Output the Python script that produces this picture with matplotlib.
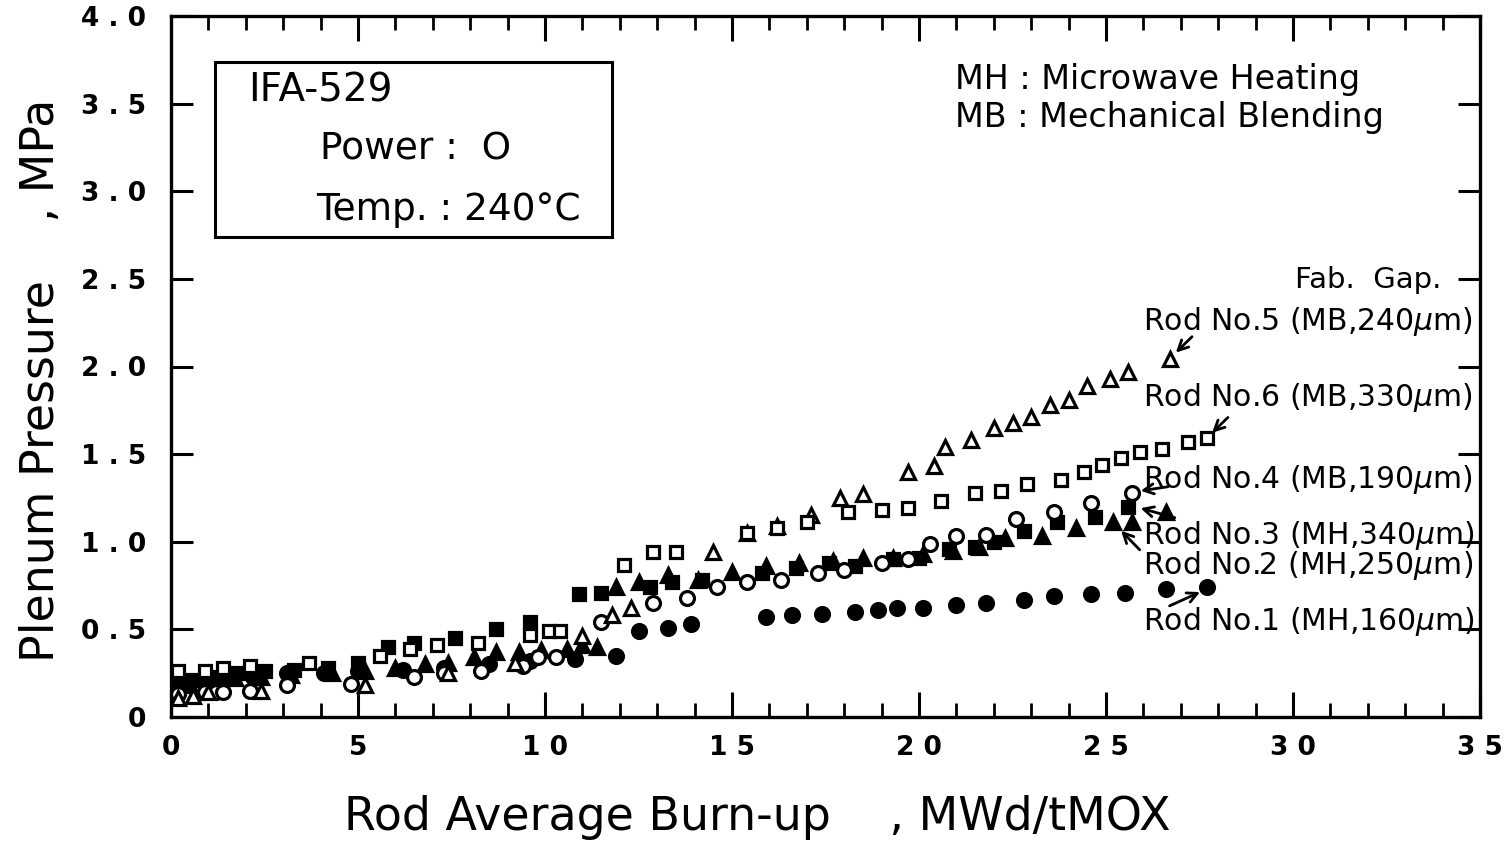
import matplotlib
matplotlib.use("Agg")
import matplotlib.pyplot as plt
from matplotlib.ticker import MultipleLocator

# ---- data (burn-up MWd/tMOX, plenum pressure MPa) ----
x1 = [0.1, 0.4, 0.9, 1.5, 2.2, 3.1, 4.1, 5.0, 6.2, 7.3, 8.5, 9.6, 10.8, 11.9, 12.5, 13.3, 13.9,
      15.9, 16.6, 17.4, 18.3, 18.9, 19.4, 20.1, 21.0, 21.8, 22.8, 23.6, 24.6, 25.5, 26.6, 27.7]
y1 = [0.17, 0.19, 0.21, 0.22, 0.23, 0.25, 0.25, 0.26, 0.27, 0.28, 0.30, 0.32, 0.33, 0.35, 0.49, 0.51, 0.53,
      0.57, 0.58, 0.59, 0.60, 0.61, 0.62, 0.62, 0.64, 0.65, 0.67, 0.69, 0.70, 0.71, 0.73, 0.74]

x2 = [0.1, 0.5, 1.1, 1.7, 2.4, 3.2, 4.3, 5.2, 6.0, 6.8, 7.4, 8.1, 8.7, 9.3, 9.9, 10.6, 11.0, 11.4,
      11.9, 12.5, 13.3, 14.1, 15.0, 15.9, 16.8, 17.7, 18.5, 19.3, 20.1, 20.9, 21.6, 22.3, 23.3, 24.2,
      25.2, 25.7, 26.6]
y2 = [0.16, 0.18, 0.20, 0.22, 0.23, 0.24, 0.25, 0.26, 0.28, 0.30, 0.31, 0.34, 0.37, 0.37, 0.38, 0.39,
      0.41, 0.40, 0.74, 0.77, 0.81, 0.78, 0.83, 0.86, 0.88, 0.89, 0.91, 0.91, 0.93, 0.95, 0.97, 1.02,
      1.03, 1.08, 1.11, 1.11, 1.17]

x3 = [0.1, 0.6, 1.2, 1.8, 2.5, 3.3, 4.2, 5.0, 5.8, 6.5, 7.6, 8.7, 9.6, 10.9, 11.5, 12.8, 13.4, 14.2,
      15.8, 16.7, 17.6, 18.3, 19.3, 20.0, 20.8, 21.5, 22.0, 22.8, 23.7, 24.7, 25.6]
y3 = [0.19, 0.21, 0.23, 0.25, 0.26, 0.27, 0.28, 0.31, 0.40, 0.42, 0.45, 0.50, 0.54, 0.70, 0.71, 0.74,
      0.77, 0.78, 0.82, 0.85, 0.88, 0.86, 0.90, 0.91, 0.96, 0.97, 1.00, 1.06, 1.11, 1.14, 1.20]

x4 = [0.2, 0.9, 1.2, 1.4, 2.1, 3.1, 4.8, 6.5, 7.3, 8.3, 9.4, 9.8, 10.3, 11.5, 12.9, 13.8, 14.6, 15.4,
      16.3, 17.3, 18.0, 19.0, 19.7, 20.3, 21.0, 21.8, 22.6, 23.6, 24.6, 25.7]
y4 = [0.13, 0.14, 0.14, 0.14, 0.15, 0.18, 0.19, 0.23, 0.25, 0.26, 0.29, 0.34, 0.34, 0.54, 0.65, 0.68,
      0.74, 0.77, 0.78, 0.82, 0.84, 0.88, 0.90, 0.99, 1.03, 1.04, 1.13, 1.17, 1.22, 1.28]

x5 = [0.2, 0.6, 1.0, 2.4, 5.2, 7.4, 9.2, 11.0, 11.8, 12.3, 14.5, 15.4, 16.2, 17.1, 17.9, 18.5, 19.7,
      20.4, 20.7, 21.4, 22.0, 22.5, 23.0, 23.5, 24.0, 24.5, 25.1, 25.6, 26.7]
y5 = [0.11, 0.12, 0.14, 0.15, 0.18, 0.25, 0.31, 0.46, 0.58, 0.62, 0.94, 1.05, 1.09, 1.15, 1.25, 1.27,
      1.40, 1.43, 1.54, 1.58, 1.65, 1.68, 1.71, 1.78, 1.81, 1.89, 1.93, 1.97, 2.04]

x6 = [0.2, 0.9, 1.4, 2.1, 3.7, 5.6, 6.4, 7.1, 8.2, 9.6, 10.1, 10.4, 12.1, 12.9, 13.5, 15.4, 16.2, 17.0,
      18.1, 19.0, 19.7, 20.6, 21.5, 22.2, 22.9, 23.8, 24.4, 24.9, 25.4, 25.9, 26.5, 27.2, 27.7]
y6 = [0.26, 0.26, 0.28, 0.29, 0.31, 0.35, 0.39, 0.41, 0.42, 0.47, 0.49, 0.49, 0.87, 0.94, 0.94, 1.05,
      1.08, 1.11, 1.17, 1.18, 1.19, 1.23, 1.28, 1.29, 1.33, 1.35, 1.40, 1.44, 1.48, 1.51, 1.53, 1.57, 1.59]

xticks = [0, 5, 10, 15, 20, 25, 30, 35]
xticklabels = ["0", "5", "1 0", "1 5", "2 0", "2 5", "3 0", "3 5"]
yticks = [0, 0.5, 1.0, 1.5, 2.0, 2.5, 3.0, 3.5, 4.0]
yticklabels = ["0", "0 . 5", "1 . 0", "1 . 5", "2 . 0", "2 . 5", "3 . 0", "3 . 5", "4 . 0"]

rod_labels = ["Rod No.1 (MH,160$\\mu$m)", "Rod No.2 (MH,250$\\mu$m)", "Rod No.3 (MH,340$\\mu$m)",
              "Rod No.4 (MB,190$\\mu$m)", "Rod No.5 (MB,240$\\mu$m)", "Rod No.6 (MB,330$\\mu$m)"]

plt.rcParams['font.family'] = ['DejaVu Sans']
plt.rcParams['mathtext.fontset'] = 'dejavusans'

W, H = 1507, 844
fig = plt.figure(figsize=(W / 100, H / 100), dpi=100)
ax = fig.add_axes([171/W, 1-717/H, (1480-171)/W, (717-16)/H])

ms = 10
mew = 2.3
ax.plot(x1, y1, 'o', ms=ms, mfc='black', mec='black', mew=mew, zorder=3)
ax.plot(x2, y2, '^', ms=ms, mfc='black', mec='black', mew=mew, zorder=3)
ax.plot(x3, y3, 's', ms=ms - 1, mfc='black', mec='black', mew=mew, zorder=3)
ax.plot(x4, y4, 'o', ms=ms, mfc='white', mec='black', mew=mew, zorder=4)
ax.plot(x5, y5, '^', ms=ms, mfc='white', mec='black', mew=mew, zorder=4)
ax.plot(x6, y6, 's', ms=ms - 1, mfc='white', mec='black', mew=mew, zorder=4)

ax.set_xlim(0, 35)
ax.set_ylim(0, 4.0)
ax.set_xticks(xticks)
ax.set_xticklabels(xticklabels, fontsize=19, fontweight='bold')
ax.set_yticks(yticks)
ax.set_yticklabels(yticklabels, fontsize=19, fontweight='bold')
ax.xaxis.set_minor_locator(MultipleLocator(1))
ax.tick_params(axis='x', which='major', direction='in', length=18, width=2.2, top=True, bottom=True, pad=13)
ax.tick_params(axis='x', which='minor', direction='in', length=10, width=2.0, top=True, bottom=True)
ax.tick_params(axis='y', which='major', direction='in', length=16, width=2.2, left=True, right=True, pad=18)
for s in ax.spines.values():
    s.set_linewidth(2.4)

fig.text(757/W, 1-818/H, "Rod Average Burn-up    , MWd/tMOX", fontsize=33, ha='center', va='center')
fig.text(42/W, 1-380/H, "Plenum Pressure    , MPa", fontsize=33, ha='center', va='center', rotation=90)

# info box
fig.patches.append(plt.Rectangle((215/W, 1-237/H), (612-215)/W, (237-62)/H,
                                 transform=fig.transFigure, fill=False, lw=2.2, ec='black'))
fig.text(248/W, 1-90/H, "IFA-529", fontsize=28, va='center', ha='left')
fig.text(320/W, 1-150/H, "Power :  O", fontsize=27, va='center', ha='left')
fig.text(316/W, 1-210/H, "Temp. : 240°C", fontsize=27, va='center', ha='left')

fig.text(955/W, 1-80/H, "MH : Microwave Heating", fontsize=24, va='center', ha='left')
fig.text(955/W, 1-117/H, "MB : Mechanical Blending", fontsize=24, va='center', ha='left')

fig.text(1295/W, 1-280/H, "Fab.  Gap.", fontsize=21, va='center', ha='left')

label_pos = [(1143, 622), (1143, 565), (1143, 535), (1143, 480), (1143, 322), (1143, 397)]
for lab, (px, py) in zip(rod_labels, label_pos):
    fig.text(px/W, 1-py/H, lab, fontsize=21.5, va='center', ha='left')

arrows = [((27.65, 0.726), (26.7, 0.634)),
          ((25.3, 1.086), (25.9, 0.954)),
          ((25.78, 1.20), (26.84, 1.137)),
          ((25.78, 1.286), (26.66, 1.314)),
          ((26.76, 2.057), (27.3, 2.17)),
          ((27.73, 1.60), (28.26, 1.709))]
for head, tail in arrows:
    ax.annotate("", xy=head, xytext=tail,
                arrowprops=dict(arrowstyle='->', lw=2.0, color='black', mutation_scale=18,
                                shrinkA=0, shrinkB=4))

fig.savefig("out.png", dpi=100)
